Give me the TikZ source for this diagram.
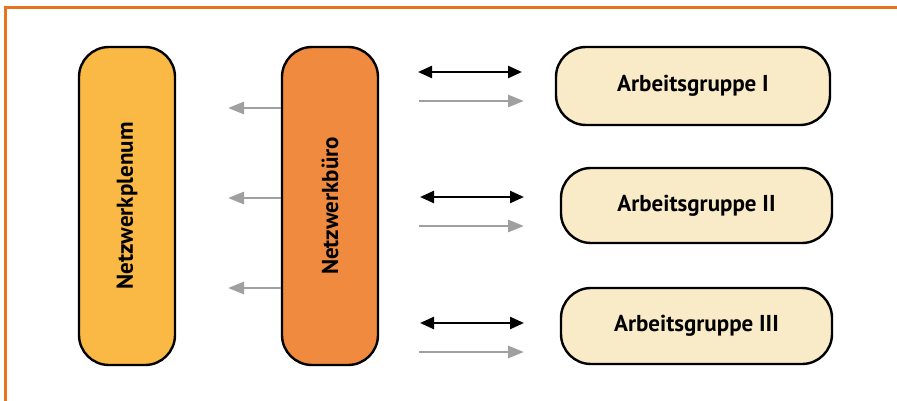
\documentclass[tikz,border=0pt]{standalone}
\usepackage{fontspec}
\setmainfont{PT Sans}
\usetikzlibrary{arrows.meta}
\definecolor{frameor}{HTML}{E8731E}
\definecolor{plenum}{HTML}{F9B944}
\definecolor{buero}{HTML}{F08A3E}
\definecolor{agfill}{HTML}{FAEBC8}
\definecolor{greyarr}{HTML}{A0A0A0}
\begin{document}
\begin{tikzpicture}[x=1pt,y=-1pt,
  box/.style={draw=black, line width=2.4pt, rounded corners=30pt, inner sep=0pt,
    font=\bfseries\fontsize{23}{26}\selectfont, text=black},
  vbox/.style={box, rotate=90, minimum width=318pt, minimum height=96pt},
  agbox/.style={box, fill=agfill},
  garrow/.style={draw=greyarr, line width=2.8pt, -{Triangle[length=16pt,width=12pt]}},
  barrow/.style={draw=black, line width=2.4pt, {Triangle[length=14pt,width=12pt]}-{Triangle[length=14pt,width=12pt]}}
]
\useasboundingbox (0,0) rectangle (897,401);
\begin{scope}
\clip (0,0) rectangle (897,401);
\draw[frameor, line width=3pt] (5.5,7.5) rectangle (930,440);
\end{scope}

\node[vbox, fill=plenum] (plen) at (127,206) {Netzwerkplenum};
\node[vbox, fill=buero] (bro) at (330,206) {Netzwerkbüro};

\node[agbox, minimum width=274pt, minimum height=78pt] (ag1) at (693,86) {Arbeitsgruppe I};
\node[agbox, minimum width=271pt, minimum height=75pt] (ag2) at (696.5,205.5) {Arbeitsgruppe II};
\node[agbox, minimum width=271pt, minimum height=76pt] (ag3) at (696.5,326) {Arbeitsgruppe III};

% grey arrows towards plenum
\coordinate (l1) at (228,108);
\coordinate (l2) at (228,198);
\coordinate (l3) at (228,288);
\draw[garrow] (l1 -| bro.north) -- (l1);
\draw[garrow] (l2 -| bro.north) -- (l2);
\draw[garrow] (l3 -| bro.north) -- (l3);

% arrows between büro and groups
\coordinate (b1s) at (418,72);  \coordinate (b1e) at (522,72);
\coordinate (g1s) at (419,101); \coordinate (g1e) at (524,101);
\coordinate (b2s) at (420,197); \coordinate (b2e) at (524,197);
\coordinate (g2s) at (419,226); \coordinate (g2e) at (524,226);
\coordinate (b3s) at (420,323); \coordinate (b3e) at (524,323);
\coordinate (g3s) at (419,352); \coordinate (g3e) at (524,352);
\draw[barrow] (b1s) -- (b1e);
\draw[garrow] (g1s) -- (g1e);
\draw[barrow] (b2s) -- (b2e);
\draw[garrow] (g2s) -- (g2e);
\draw[barrow] (b3s) -- (b3e);
\draw[garrow] (g3s) -- (g3e);
\end{tikzpicture}
\end{document}
